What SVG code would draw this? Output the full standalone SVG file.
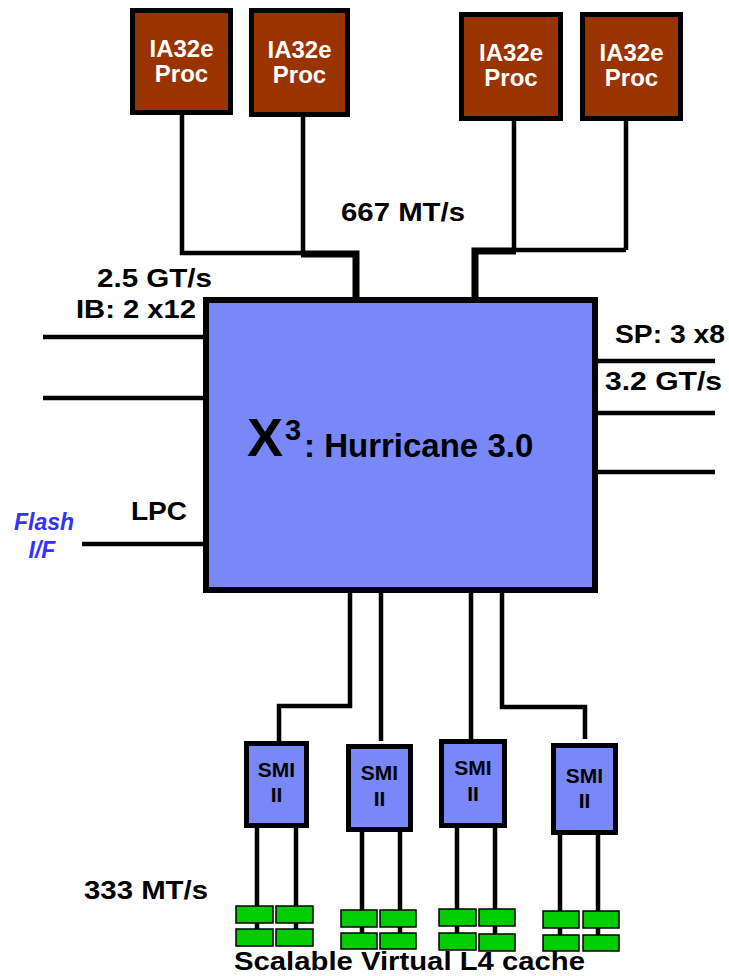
<svg xmlns="http://www.w3.org/2000/svg" width="729" height="976" viewBox="0 0 729 976">
<style>
text{font-family:"Liberation Sans",Arial,sans-serif;font-weight:bold}
.proc{fill:#993300;stroke:#000;stroke-width:5}
.ptxt{fill:#fff;font-size:24px;text-anchor:middle}
.chip{fill:#7888f8;stroke:#000}
.lbl{fill:#000;font-size:26px}
.smi{fill:#000;font-size:21px;text-anchor:middle}
.flash{fill:#3333ff;font-size:23px;font-style:italic;text-anchor:middle}
.w{fill:none;stroke:#000;stroke-width:4.5}
.t{fill:none;stroke:#000;stroke-width:7}
.dimm{fill:#00cc00;stroke:#000;stroke-width:1.5}
</style>
<rect width="729" height="976" fill="#fff"/>
<g id="connectors">
<path class="w" d="M182 115V253H303M303 117V253"/>
<path class="t" d="M301 254H356V297"/>
<path class="w" d="M514 121V250H626M626 121V250"/>
<path class="t" d="M516 251H475V297"/>
<path class="w" d="M43 337H203M43 398H203M82 544H203"/>
<path class="w" d="M598 361H715M598 413H715M598 472H715"/>
<path class="w" d="M350 593V706H279V741M381 593V741M471 593V739M502 593V707H585V739"/>
<path class="w" d="M257 826V938M296 826V938M362 830V942M400 830V942M457 826V942M495 826V942M560 833V944M598 833V944"/>
</g>
<g id="proc1"><rect class="proc" x="132.5" y="10.5" width="98" height="102"/><text class="ptxt" x="181.5" y="57">IA32e</text><text class="ptxt" x="181.5" y="82">Proc</text></g>
<g id="proc2"><rect class="proc" x="251.5" y="10.5" width="96" height="104"/><text class="ptxt" x="299.5" y="58">IA32e</text><text class="ptxt" x="299.5" y="83">Proc</text></g>
<g id="proc3"><rect class="proc" x="461.5" y="14.5" width="99" height="104"/><text class="ptxt" x="511" y="61">IA32e</text><text class="ptxt" x="511" y="86">Proc</text></g>
<g id="proc4"><rect class="proc" x="582.5" y="14.5" width="98" height="104"/><text class="ptxt" x="631.5" y="61">IA32e</text><text class="ptxt" x="631.5" y="86">Proc</text></g>
<g id="hurricane"><rect class="chip" stroke-width="6" x="206" y="300" width="389" height="290"/>
<text fill="#000"><tspan x="247" y="456" font-size="54">X</tspan><tspan x="285" y="440" font-size="29">3</tspan><tspan x="304" y="457" font-size="33">: Hurricane 3.0</tspan></text></g>
<g id="smi1"><rect class="chip" stroke-width="5" x="246.5" y="743.5" width="60" height="82"/><text class="smi" x="276.5" y="777">SMI</text><text class="smi" x="276.5" y="802">II</text></g>
<g id="smi2"><rect class="chip" stroke-width="5" x="348.5" y="746.5" width="62" height="83"/><text class="smi" x="379.5" y="780">SMI</text><text class="smi" x="379.5" y="806">II</text></g>
<g id="smi3"><rect class="chip" stroke-width="5" x="441.5" y="741.5" width="63" height="84"/><text class="smi" x="473" y="775">SMI</text><text class="smi" x="473" y="801">II</text></g>
<g id="smi4"><rect class="chip" stroke-width="5" x="553.5" y="745.5" width="62" height="87"/><text class="smi" x="584.5" y="783">SMI</text><text class="smi" x="584.5" y="808">II</text></g>
<g id="dimms1"><rect class="dimm" x="236" y="906" width="37" height="17"/><rect class="dimm" x="276" y="906" width="37" height="17"/><rect class="dimm" x="236" y="929" width="37" height="17"/><rect class="dimm" x="276" y="929" width="37" height="17"/></g>
<g id="dimms2"><rect class="dimm" x="341" y="910" width="36" height="17"/><rect class="dimm" x="380" y="910" width="36" height="17"/><rect class="dimm" x="341" y="933" width="36" height="16"/><rect class="dimm" x="380" y="933" width="36" height="16"/></g>
<g id="dimms3"><rect class="dimm" x="439" y="909" width="37" height="17"/><rect class="dimm" x="479" y="909" width="36" height="17"/><rect class="dimm" x="439" y="933" width="37" height="17"/><rect class="dimm" x="479" y="934" width="36" height="17"/></g>
<g id="dimms4"><rect class="dimm" x="543" y="911" width="36" height="17"/><rect class="dimm" x="583" y="911" width="36" height="17"/><rect class="dimm" x="543" y="935" width="36" height="16"/><rect class="dimm" x="583" y="935" width="36" height="16"/></g>
<g id="labels">
<text class="lbl" x="341" y="221" font-size="28" textLength="124" lengthAdjust="spacingAndGlyphs">667 MT/s</text>
<text class="lbl" x="97" y="287" textLength="115" lengthAdjust="spacingAndGlyphs">2.5 GT/s</text>
<text class="lbl" x="76" y="318" textLength="120" lengthAdjust="spacingAndGlyphs">IB: 2 x12</text>
<text class="lbl" x="131" y="520" font-size="28" textLength="56" lengthAdjust="spacingAndGlyphs">LPC</text>
<text class="flash" x="44" y="530">Flash</text>
<text class="flash" x="42" y="558">I/F</text>
<text class="lbl" x="615" y="343" font-size="25" textLength="110" lengthAdjust="spacingAndGlyphs">SP: 3 x8</text>
<text class="lbl" x="605" y="390" font-size="25" textLength="117" lengthAdjust="spacingAndGlyphs">3.2 GT/s</text>
<text class="lbl" x="84" y="899" font-size="29" textLength="124" lengthAdjust="spacingAndGlyphs">333 MT/s</text>
<text class="lbl" x="234" y="970" font-size="26" textLength="351" lengthAdjust="spacingAndGlyphs">Scalable Virtual L4 cache</text>
</g>
</svg>
